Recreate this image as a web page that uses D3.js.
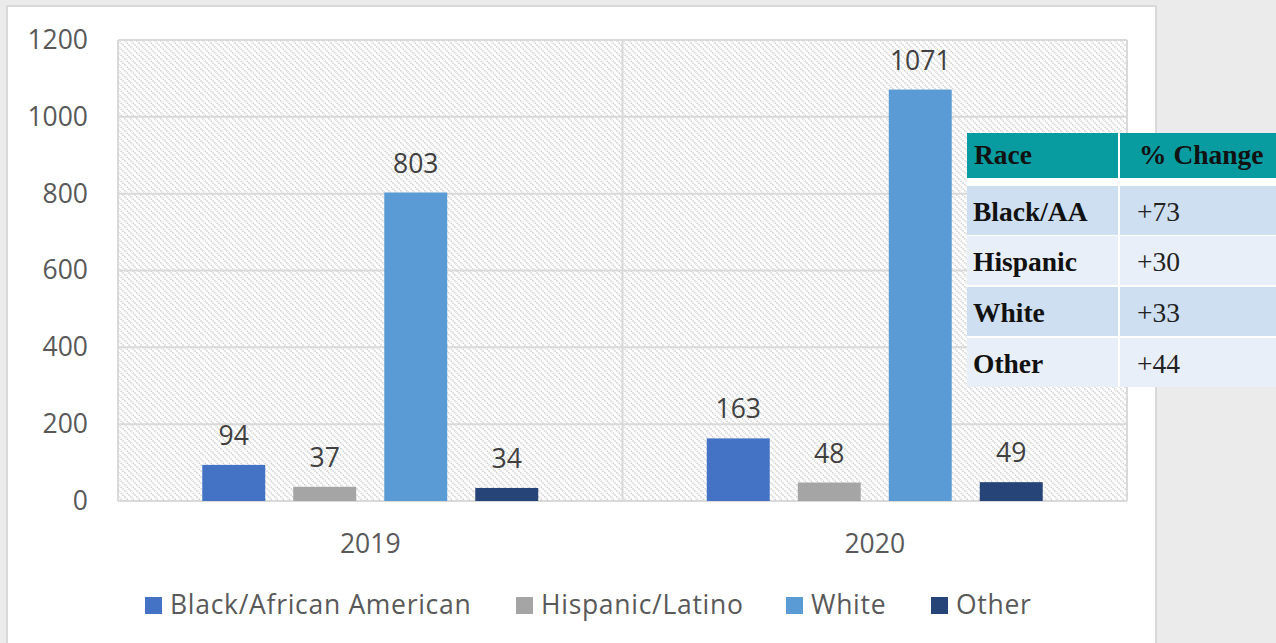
<!DOCTYPE html>
<html>
<head>
<meta charset="utf-8">
<script src="https://cdn.jsdelivr.net/npm/d3@7"></script>
<style>
  html, body { margin: 0; padding: 0; background: #ebebeb; }
  svg { display: block; }
</style>
</head>
<body>
<svg id="chart" width="1276" height="643"></svg>
<script>
// Chart data
const years = ["2019", "2020"];
const seriesNames = ["Black/African American", "Hispanic/Latino", "White", "Other"];
const seriesColors = ["#4472c4", "#a5a5a5", "#5b9bd5", "#264478"];
const values2019 = [94, 37, 803, 34];
const values2020 = [163, 48, 1071, 49];
const yTicks = [0, 200, 400, 600, 800, 1000, 1200];

// Inset table data
const tableHeader = ["Race", "% Change"];
const tableRaces = ["Black/AA", "Hispanic", "White", "Other"];
const tableChanges = ["+73", "+30", "+33", "+44"];

const valuesByYear = [values2019, values2020];

const svg = d3.select("#chart");
const font = "'Open Sans', 'Noto Sans', sans-serif";
const fontSize = 26.5;
const textColor = "#595959";

// White chart panel
svg.append("rect")
  .attr("x", 7).attr("y", 6).attr("width", 1149).attr("height", 660)
  .attr("fill", "#ffffff").attr("stroke", "#d9d9d9").attr("stroke-width", 2);

// Plot area
const plot = { left: 118, right: 1127, top: 40, bottom: 501 };

const defs = svg.append("defs");
const pat = defs.append("pattern")
  .attr("id", "hatch").attr("patternUnits", "userSpaceOnUse")
  .attr("width", 6).attr("height", 6);
pat.append("rect").attr("width", 6).attr("height", 6).attr("fill", "#ffffff");
pat.append("path")
  .attr("d", "M-1,-1 L7,7 M-4,2 L2,8 M4,-2 L10,4")
  .attr("stroke", "#d2d2d2").attr("stroke-width", 1.6)
  .attr("stroke-dasharray", "1.5,1");

svg.append("rect")
  .attr("x", plot.left).attr("y", plot.top)
  .attr("width", plot.right - plot.left).attr("height", plot.bottom - plot.top)
  .attr("fill", "url(#hatch)");

const x0 = d3.scaleBand().domain(years).range([plot.left, plot.right]).padding(0);
const x1 = d3.scaleBand().domain(seriesNames).range([0, x0.bandwidth()])
  .paddingInner(0.308).paddingOuter(0.926);
const y = d3.scaleLinear().domain([0, 1200]).range([plot.bottom, plot.top]);

// Horizontal gridlines
svg.append("g").selectAll("line").data(yTicks).join("line")
  .attr("x1", plot.left).attr("x2", plot.right)
  .attr("y1", d => y(d)).attr("y2", d => y(d))
  .attr("stroke", "#d9d9d9").attr("stroke-width", 2);

// Category boundaries
const bounds = [plot.left, x0("2020"), plot.right];
svg.append("g").selectAll("line").data(bounds).join("line")
  .attr("x1", d => d).attr("x2", d => d)
  .attr("y1", plot.top).attr("y2", plot.bottom)
  .attr("stroke", "#d9d9d9").attr("stroke-width", 2);

// Y axis labels
const yAxis = d3.axisLeft(y).tickValues(yTicks).tickFormat(d3.format("d"))
  .tickSize(0).tickPadding(30);
const yg = svg.append("g").attr("transform", `translate(${plot.left},0)`).call(yAxis);
yg.select(".domain").remove();
yg.selectAll("text")
  .attr("font-family", font).attr("font-size", fontSize).attr("fill", textColor);

// X axis labels
const xAxis = d3.axisBottom(x0).tickSize(0).tickPadding(33);
const xg = svg.append("g").attr("transform", `translate(0,${plot.bottom})`).call(xAxis);
xg.select(".domain").remove();
xg.selectAll("text")
  .attr("font-family", font).attr("font-size", fontSize).attr("fill", textColor);

// Bars and value labels
years.forEach((yr, i) => {
  const g = svg.append("g").attr("transform", `translate(${x0(yr)},0)`);
  const rows = seriesNames.map((s, j) => ({ s, v: valuesByYear[i][j], c: seriesColors[j] }));
  g.selectAll("rect").data(rows).join("rect")
    .attr("x", d => x1(d.s)).attr("width", x1.bandwidth())
    .attr("y", d => y(d.v)).attr("height", d => y(0) - y(d.v))
    .attr("fill", d => d.c);
  g.selectAll("text").data(rows).join("text")
    .attr("x", d => x1(d.s) + x1.bandwidth() / 2)
    .attr("y", d => y(d.v) - 20)
    .attr("text-anchor", "middle")
    .attr("font-family", font).attr("font-size", fontSize).attr("fill", "#404040")
    .text(d => d.v);
});

// Legend
const legendX = [145, 516, 786, 931];
const lg = svg.append("g");
seriesNames.forEach((s, j) => {
  lg.append("rect").attr("x", legendX[j]).attr("y", 597).attr("width", 17).attr("height", 17)
    .attr("fill", seriesColors[j]);
  lg.append("text").attr("x", legendX[j] + 25).attr("y", 614)
    .attr("font-family", font).attr("font-size", fontSize).attr("fill", textColor)
    .attr("letter-spacing", 0.7)
    .text(s);
});

// Inset table of percent change
const tbl = svg.append("g");
const tLeft = 967, tRight = 1290, colSplit = 1119;
const serif = "'Liberation Serif', 'Times New Roman', serif";
const tSize = 27.5;
tbl.append("rect").attr("x", tLeft).attr("y", 133).attr("width", tRight - tLeft).attr("height", 254)
  .attr("fill", "#ffffff");
tbl.append("rect").attr("x", tLeft).attr("y", 133).attr("width", tRight - tLeft).attr("height", 45)
  .attr("fill", "#089ca0");
const rowTop = [186, 236, 287, 338];
const rowH = 49;
const rowFill = ["#cddff0", "#e8eff8", "#cddff0", "#e8eff8"];
tableRaces.forEach((r, i) => {
  tbl.append("rect").attr("x", tLeft).attr("y", rowTop[i]).attr("width", tRight - tLeft).attr("height", rowH)
    .attr("fill", rowFill[i]);
});
tbl.append("line").attr("x1", colSplit).attr("x2", colSplit).attr("y1", 133).attr("y2", 387)
  .attr("stroke", "#ffffff").attr("stroke-width", 2);

tbl.append("text").attr("x", 974).attr("y", 164)
  .attr("font-family", serif).attr("font-weight", "bold").attr("font-size", tSize).attr("fill", "#111")
  .text(tableHeader[0]);
tbl.append("text").attr("x", 1139).attr("y", 164)
  .attr("font-family", serif).attr("font-weight", "bold").attr("font-size", tSize).attr("fill", "#111")
  .text(tableHeader[1]);
tableRaces.forEach((r, i) => {
  tbl.append("text").attr("x", 973).attr("y", rowTop[i] + 35)
    .attr("font-family", serif).attr("font-weight", "bold").attr("font-size", tSize).attr("fill", "#111")
    .text(r);
  tbl.append("text").attr("x", 1137).attr("y", rowTop[i] + 35)
    .attr("font-family", serif).attr("font-size", tSize).attr("fill", "#222")
    .text(tableChanges[i]);
});
</script>
</body>
</html>
